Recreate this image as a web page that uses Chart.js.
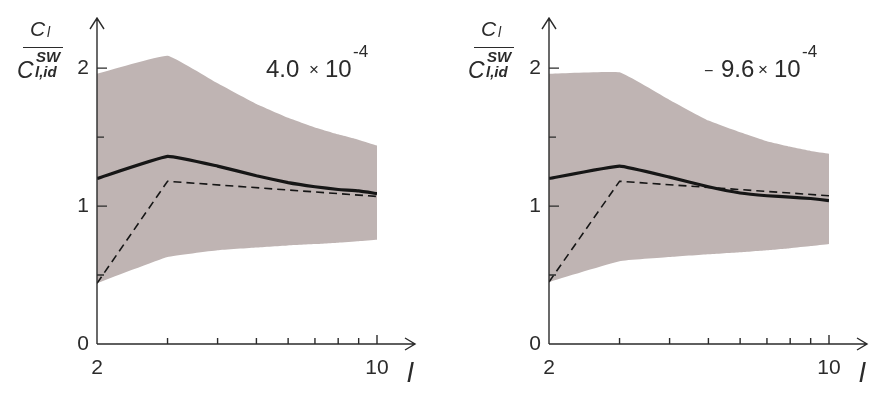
<!DOCTYPE html>
<html lang="en">
<head>
<meta charset="UTF-8" />
<title>C_l / C_l,id^SW versus l</title>
<script src="https://cdn.jsdelivr.net/npm/chart.js@4.4.1/dist/chart.umd.min.js"></script>
<style>
*{box-sizing:border-box}
html,body{margin:0;padding:0;background:#fff}
body{width:890px;height:405px;overflow:hidden;position:relative;
  font-family:"Liberation Sans",Arial,sans-serif;color:#2b2b2b}
canvas{position:absolute;top:0}
#cA{left:0}
#cB{left:452px}
.t{position:absolute;line-height:1;white-space:nowrap}
.it{font-style:italic}
.bar{position:absolute;height:0;border-top:1.5px solid #2b2b2b}
</style>
</head>
<body>

<canvas id="cA" width="445" height="405"></canvas>
<canvas id="cB" width="438" height="405"></canvas>

<!-- y-axis label, left panel -->
<span class="t it" style="left:30px;top:18px;font-size:21px">C</span>
<span class="t it" style="left:47px;top:25px;font-size:14px">l</span>
<div class="bar" style="left:23px;top:47px;width:40px"></div>
<span class="t it" style="left:17px;top:59px;font-size:23px">C</span>
<span class="t it" style="left:36px;top:49px;font-size:15px;font-weight:bold">SW</span>
<span class="t it" style="left:35px;top:64px;font-size:15px;font-weight:bold">l,id</span>

<!-- y-axis label, right panel -->
<span class="t it" style="left:481px;top:18px;font-size:21px">C</span>
<span class="t it" style="left:498px;top:25px;font-size:14px">l</span>
<div class="bar" style="left:474px;top:47px;width:40px"></div>
<span class="t it" style="left:468px;top:59px;font-size:23px">C</span>
<span class="t it" style="left:487px;top:49px;font-size:15px;font-weight:bold">SW</span>
<span class="t it" style="left:486px;top:64px;font-size:15px;font-weight:bold">l,id</span>

<!-- panel notes -->
<span class="t" style="left:266px;top:57px;font-size:24px">4.0</span>
<span class="t" style="left:309px;top:61px;font-size:17px">×</span>
<span class="t" style="left:325px;top:57px;font-size:24px">10</span>
<span class="t" style="left:353px;top:43px;font-size:17px">-4</span>

<span class="t" style="left:704px;top:63px;font-size:16px">−</span>
<span class="t" style="left:721px;top:57px;font-size:24px">9.6</span>
<span class="t" style="left:758px;top:61px;font-size:17px">×</span>
<span class="t" style="left:774px;top:57px;font-size:24px">10</span>
<span class="t" style="left:802px;top:43px;font-size:17px">-4</span>

<!-- x-axis label -->
<span class="t it" style="left:407px;top:359px;font-size:28px;font-weight:300">l</span>
<span class="t it" style="left:859px;top:359px;font-size:28px;font-weight:300">l</span>

<script>
/* ── data ─────────────────────────────────────────────────────── */
const ells      = [2, 3, 4, 5, 6, 7, 8, 9, 10];
const dashEll   = [2, 3, 10];
const xTicks    = [2, 3, 4, 5, 6, 7, 8, 9, 10];
const xLabels   = [2, 10];
const yTicks    = [0, 0.5, 1, 1.5, 2];
const yLabels   = [0, 1, 2];

// panel A (4.0e-4)
const upperA = [1.96, 2.09, 1.89, 1.74, 1.64, 1.57, 1.52, 1.48, 1.44];
const lowerA = [0.44, 0.63, 0.68, 0.70, 0.715, 0.725, 0.735, 0.745, 0.755];
const solidA = [1.20, 1.36, 1.29, 1.22, 1.17, 1.14, 1.12, 1.11, 1.09];
const dashA  = [0.44, 1.18, 1.07];

// panel B (-9.6e-4)
const upperB = [1.96, 1.97, 1.77, 1.62, 1.535, 1.47, 1.43, 1.40, 1.38];
const lowerB = [0.45, 0.60, 0.63, 0.65, 0.665, 0.68, 0.695, 0.71, 0.725];
const solidB = [1.20, 1.29, 1.21, 1.14, 1.095, 1.075, 1.065, 1.055, 1.04];
const dashB  = [0.45, 1.18, 1.075];

/* ── helpers ──────────────────────────────────────────────────── */
const INK  = '#2b2b2b';
const BAND = '#bfb4b3';
const pts = (xs, ys) => xs.map((x, i) => ({x, y: ys[i]}));

// axes with arrows + inward ticks, drawn from the chart's own scales
const arrowAxes = {
  id: 'arrowAxes',
  afterDatasetsDraw(chart){
    const {ctx, scales:{x, y}} = chart;
    const x0 = x.getPixelForValue(2), y0 = y.getPixelForValue(0);
    const xEnd = x.getPixelForValue(10) + 38, yEnd = 18;
    ctx.save();
    ctx.strokeStyle = INK; ctx.lineWidth = 1.4; ctx.lineCap = 'butt';
    ctx.beginPath();
    ctx.moveTo(x0, y0); ctx.lineTo(x0, yEnd);
    ctx.moveTo(x0 - 7, yEnd + 11); ctx.lineTo(x0, yEnd); ctx.lineTo(x0 + 7, yEnd + 11);
    ctx.moveTo(x0, y0); ctx.lineTo(xEnd, y0);
    ctx.moveTo(xEnd - 10, y0 - 6); ctx.lineTo(xEnd, y0); ctx.lineTo(xEnd - 10, y0 + 6);
    // y ticks (inside)
    yTicks.forEach(v => {
      if (v === 0) return;
      const py = y.getPixelForValue(v), len = Number.isInteger(v) ? 10 : 7;
      ctx.moveTo(x0, py); ctx.lineTo(x0 + len, py);
    });
    // x ticks (inside)
    xTicks.forEach(v => {
      if (v === 2) return;
      const px = x.getPixelForValue(v), len = v === 10 ? 9 : 6;
      ctx.moveTo(px, y0); ctx.lineTo(px, y0 - len);
    });
    ctx.stroke();

    ctx.fillStyle = INK;
    ctx.font = '21px "Liberation Sans", Arial, sans-serif';
    ctx.textAlign = 'right'; ctx.textBaseline = 'middle';
    yLabels.forEach(v => ctx.fillText(String(v), x0 - 8, y.getPixelForValue(v)));
    ctx.textAlign = 'center'; ctx.textBaseline = 'middle';
    xLabels.forEach(v => ctx.fillText(String(v), x.getPixelForValue(v), y0 + 24));
    ctx.restore();
  }
};

function makePanel(id, upper, lower, solid, dash, padRight){
  new Chart(document.getElementById(id), {
    type: 'line',
    data: {
      datasets: [
        {data: pts(ells, solid), borderColor: '#161616', borderWidth: 3.2, pointRadius: 0, order: 1, tension: 0.1},
        {data: pts(dashEll, dash), borderColor: '#161616', borderWidth: 1.6, borderDash: [8, 5], pointRadius: 0, order: 2},
        {data: pts(ells, upper), borderWidth: 0, pointRadius: 0, backgroundColor: BAND, fill: '+1', order: 3, tension: 0.1},
        {data: pts(ells, lower), borderWidth: 0, pointRadius: 0, fill: false, order: 4, tension: 0.1}
      ]
    },
    options: {
      responsive: false,
      animation: false,
      layout: {padding: {left: 97, right: padRight, top: 13, bottom: 61}},
      plugins: {legend: {display: false}, tooltip: {enabled: false}},
      scales: {
        x: {type: 'logarithmic', min: 2, max: 10, display: false},
        y: {type: 'linear', min: 0, max: 2.4, display: false}
      }
    },
    plugins: [arrowAxes]
  });
}

makePanel('cA', upperA, lowerA, solidA, dashA, 68);
makePanel('cB', upperB, lowerB, solidB, dashB, 61);
</script>
</body>
</html>
